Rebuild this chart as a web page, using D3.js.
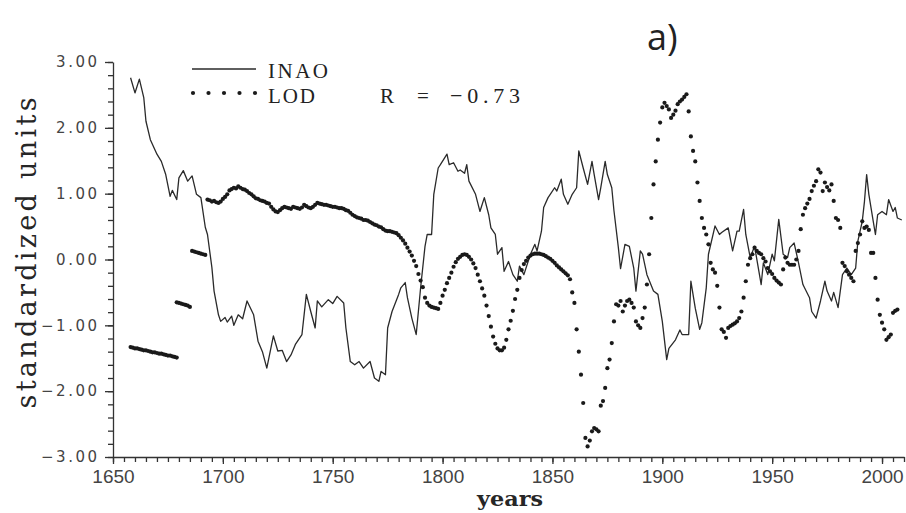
<!DOCTYPE html>
<meta charset="utf-8">
<script src="https://d3js.org/d3.v7.min.js"></script>
<body>
<svg width="906" height="513"></svg>
<style>
body { margin: 0; background: #fff; }
svg { display: block; background: #fff; }
.axis path, .axis line { stroke: #333; stroke-width: 1.3; }
.ylab text { font-family: 'DejaVu Sans', sans-serif; font-size: 15px; letter-spacing: 2.5px; fill: #444; }
.xlab text { font-family: 'Liberation Sans', sans-serif; font-size: 19px; fill: #444; }
.serif { font-family: 'Liberation Serif', serif; fill: #222; }
.slab { font-family: 'DejaVu Serif', serif; fill: #262626; }
</style>
<script>
// INAO index (solid line)
const inaoYears = [1658,1660,1662,1664,1665,1667,1670,1672,1674,1676,1677,1679,1680,1682,1684,1686,1688,1690,1692,1693,
  1695,1696,1698,1699,1701,1702,1704,1705,1707,1709,1711,1714,1716,1718,1720,1723,1725,1727,1729,1731,
  1733,1736,1738,1740,1742,1743,1745,1748,1750,1752,1755,1756,1758,1760,1762,1764,1767,1769,1771,1772,
  1774,1775,1777,1780,1781,1783,1784,1786,1788,1790,1792,1793,1795,1796,1798,1799,1802,1803,1805,1807,
  1808,1810,1811,1812,1815,1817,1819,1821,1822,1824,1825,1827,1828,1830,1832,1834,1835,1837,1840,1842,
  1843,1845,1846,1848,1849,1851,1852,1854,1855,1857,1859,1861,1862,1864,1866,1868,1869,1871,1872,1874,
  1875,1877,1878,1880,1881,1883,1885,1887,1888,1890,1891,1893,1896,1898,1900,1902,1903,1906,1908,1909,
  1912,1913,1915,1917,1918,1920,1921,1924,1926,1927,1930,1932,1934,1935,1937,1938,1940,1942,1945,1946,
  1948,1950,1951,1953,1955,1957,1958,1960,1962,1964,1967,1968,1970,1972,1974,1975,1977,1978,1980,1982,
  1984,1986,1988,1989,1991,1992,1993,1994,1996,1997,1998,2000,2002,2003,2005,2006,2007,2009];
const inaoValues = [2.76,2.53,2.74,2.46,2.10,1.82,1.60,1.49,1.29,0.96,1.05,0.91,1.24,1.35,1.19,1.27,0.99,0.94,0.49,0.38,
  -0.12,-0.48,-0.84,-0.94,-0.88,-0.95,-0.86,-1.00,-0.84,-0.90,-0.63,-0.84,-1.24,-1.40,-1.65,-1.16,-1.39,-1.38,-1.55,-1.45,
  -1.29,-1.14,-0.53,-0.79,-1.04,-0.63,-0.72,-0.61,-0.67,-0.56,-0.66,-1.04,-1.55,-1.60,-1.55,-1.65,-1.55,-1.80,-1.85,-1.70,
  -1.75,-1.04,-0.79,-0.53,-0.43,-0.35,-0.58,-0.89,-1.14,-0.43,0.20,0.38,0.38,0.99,1.39,1.44,1.60,1.44,1.47,1.34,
  1.36,1.31,1.44,1.19,0.99,0.73,0.94,0.68,0.48,0.38,0.08,0.18,-0.18,-0.03,-0.23,-0.33,-0.10,-0.23,0.08,0.23,
  0.13,0.43,0.79,0.94,0.99,1.09,1.04,1.22,0.99,0.84,0.99,1.09,1.65,1.39,1.14,1.49,1.29,0.91,1.09,1.49,
  1.29,1.09,0.74,0.18,-0.14,0.23,0.20,-0.13,-0.48,0.13,0.08,-0.23,-0.48,-0.53,-0.94,-1.52,-1.35,-1.22,-1.07,-1.14,
  -1.14,-0.33,-0.74,-1.06,-0.96,-0.43,0.08,0.51,0.38,0.41,0.48,0.13,0.43,0.43,0.76,0.38,0.03,0.20,-0.38,-0.05,
  -0.23,0.08,-0.02,0.61,0.08,0.03,0.18,0.25,-0.05,-0.38,-0.58,-0.79,-0.89,-0.63,-0.33,-0.48,-0.63,-0.50,-0.73,-0.23,
  -0.13,-0.23,-0.13,0.28,0.58,0.88,1.29,0.99,0.58,0.38,0.68,0.73,0.68,0.91,0.73,0.79,0.63,0.60];

// LOD (dots), annual values in four pieces starting at these years
const lodStarts = [1658, 1679, 1686, 1693];
const lodA = [-1.33,-1.34,-1.35,-1.35,-1.36,-1.37,-1.38,-1.38,-1.39,-1.40,-1.41,-1.41,-1.42,-1.43,-1.43,-1.44,
  -1.45,-1.46,-1.46,-1.47,-1.48,-1.49];
const lodB = [-0.65,-0.66,-0.67,-0.68,-0.69,-0.70,-0.72];
const lodC = [0.13,0.12,0.11,0.10,0.09,0.08,0.07];
const lodD = [0.91,0.90,0.88,0.89,0.87,0.86,0.88,
  0.92,0.95,0.99,1.05,1.07,1.09,1.08,1.11,1.09,1.07,
  1.06,1.04,1.01,0.99,0.96,0.93,0.92,0.90,0.89,0.88,
  0.86,0.85,0.80,0.76,0.73,0.72,0.75,0.78,0.80,0.79,
  0.78,0.77,0.80,0.79,0.78,0.77,0.79,0.83,0.81,0.79,
  0.78,0.80,0.83,0.86,0.85,0.84,0.83,0.83,0.82,0.81,
  0.80,0.80,0.79,0.78,0.78,0.77,0.75,0.74,0.71,0.68,
  0.66,0.64,0.63,0.62,0.60,0.60,0.59,0.57,0.55,0.53,
  0.52,0.50,0.49,0.46,0.44,0.43,0.43,0.42,0.41,0.40,
  0.37,0.33,0.29,0.24,0.18,0.12,0.06,-0.02,-0.10,-0.22,
  -0.32,-0.42,-0.58,-0.66,-0.70,-0.72,-0.73,-0.74,-0.75,-0.66,
  -0.55,-0.46,-0.36,-0.28,-0.20,-0.11,-0.04,0.01,0.04,0.07,
  0.08,0.07,0.04,0.00,-0.06,-0.13,-0.23,-0.33,-0.44,-0.55,
  -0.70,-0.86,-1.02,-1.17,-1.28,-1.35,-1.38,-1.38,-1.34,-1.22,
  -1.06,-0.93,-0.78,-0.60,-0.46,-0.28,-0.16,-0.07,-0.02,0.03,
  0.06,0.08,0.09,0.09,0.09,0.08,0.07,0.05,0.03,0.01,
  -0.02,-0.05,-0.09,-0.12,-0.15,-0.18,-0.21,-0.24,-0.30,-0.50,
  -0.66,-1.06,-1.40,-1.75,-2.18,-2.71,-2.84,-2.75,-2.61,-2.56,
  -2.58,-2.61,-2.22,-2.15,-1.95,-1.65,-1.52,-1.27,-0.94,-0.68,
  -0.70,-0.63,-0.79,-0.70,-0.63,-0.61,-0.66,-0.73,-0.94,-1.00,
  -1.04,-0.89,-0.73,-0.38,0.08,0.63,1.14,1.49,1.82,2.08,
  2.31,2.38,2.33,2.28,2.15,2.20,2.26,2.36,2.40,2.43,
  2.47,2.51,2.25,1.87,1.65,1.49,1.17,0.89,0.63,0.48,
  0.38,0.23,-0.05,-0.15,-0.20,-0.40,-0.73,-1.06,-1.10,-1.19,
  -1.04,-1.01,-0.99,-0.97,-0.94,-0.89,-0.79,-0.58,-0.33,-0.08,
  0.02,0.08,0.18,0.13,0.10,0.08,0.02,-0.03,-0.13,-0.18,
  -0.22,-0.28,-0.32,-0.35,-0.38,-0.15,0.03,-0.05,-0.08,-0.08,
  -0.08,0.00,0.13,0.46,0.68,0.78,0.85,0.92,1.04,1.12,
  1.19,1.37,1.32,1.04,1.17,1.10,1.05,1.14,0.89,0.63,
  0.60,0.48,-0.05,-0.10,-0.18,-0.23,-0.28,-0.33,0.13,0.25,
  0.38,0.58,0.48,0.50,0.45,0.10,0.10,-0.28,-0.61,-0.84,
  -0.96,-1.06,-1.22,-1.18,-1.14,-0.81,-0.78,-0.76];

const xMajor = [1650, 1700, 1750, 1800, 1850, 1900, 1950, 2000];
const yMajor = [-3, -2, -1, 0, 1, 2, 3];

var svg = d3.select('svg');
var x = d3.scaleLinear().domain([1650, 2010]).range([113, 904]);
var y = d3.scaleLinear().domain([-3, 3]).range([457, 62]);

// ----- axes -----
var yMinor = d3.range(-30, 31, 2).map(d => d / 10);
var xMinor = d3.range(1650, 2011, 5);

svg.append('g').attr('class', 'axis').attr('transform', 'translate(113,0)')
  .call(d3.axisLeft(y).tickValues(yMinor).tickSize(5).tickSizeOuter(0).tickFormat(''))
  .select('.domain').remove();
svg.append('g').attr('class', 'axis ylab').attr('transform', 'translate(113,0)')
  .call(d3.axisLeft(y).tickValues(yMajor).tickSize(8).tickSizeOuter(0).tickPadding(5.5).tickFormat(d3.format('.2f')));

svg.append('g').attr('class', 'axis').attr('transform', 'translate(0,457)')
  .call(d3.axisBottom(x).tickValues(xMinor).tickSize(5).tickSizeOuter(0).tickFormat(''))
  .select('.domain').remove();
svg.append('g').attr('class', 'axis xlab').attr('transform', 'translate(0,457)')
  .call(d3.axisBottom(x).tickValues(xMajor).tickSize(7).tickSizeOuter(0).tickPadding(6).tickFormat(d3.format('d')));

svg.selectAll('.axis text').attr('font-family', null).attr('font-size', null).attr('fill', null);

// ----- INAO line -----
var inao = inaoYears.map((yr, i) => [yr, inaoValues[i]]);
var line = d3.line().x(d => x(d[0])).y(d => y(d[1]));
svg.append('path').datum(inao)
  .attr('d', line)
  .attr('fill', 'none')
  .attr('stroke', '#2a2a2a')
  .attr('stroke-width', 1.3)
  .attr('stroke-linejoin', 'round');

// ----- LOD dots -----
var lod = [];
[lodA, lodB, lodC, lodD].forEach((arr, k) => {
  arr.forEach((v, i) => lod.push([lodStarts[k] + i, v]));
});
svg.append('g').selectAll('circle').data(lod).enter().append('circle')
  .attr('cx', d => x(d[0]))
  .attr('cy', d => y(d[1]))
  .attr('r', 2.1)
  .attr('fill', '#1a1a1a');

// ----- legend -----
svg.append('line').attr('x1', 192).attr('x2', 256).attr('y1', 69).attr('y2', 69)
  .attr('stroke', '#2a2a2a').attr('stroke-width', 1.3);
svg.append('g').selectAll('circle').data([0, 1, 2, 3, 4]).enter().append('circle')
  .attr('cx', d => 193 + d * 15.5).attr('cy', 93).attr('r', 2.1).attr('fill', '#1a1a1a');

svg.append('text').attr('class', 'serif').attr('x', 268).attr('y', 78)
  .attr('font-size', 21).attr('textLength', 60).attr('lengthAdjust', 'spacing').text('INAO');
svg.append('text').attr('class', 'serif').attr('x', 268).attr('y', 103)
  .attr('font-size', 21).attr('textLength', 47).attr('lengthAdjust', 'spacing').text('LOD');
svg.append('text').attr('class', 'serif').attr('x', 380).attr('y', 103)
  .attr('font-size', 21).text('R');
svg.append('text').attr('class', 'serif').attr('x', 417).attr('y', 103)
  .attr('font-size', 21).text('=');
svg.append('text').attr('class', 'serif').attr('x', 450).attr('y', 103)
  .attr('font-size', 22).attr('textLength', 70).attr('lengthAdjust', 'spacing').text('\u22120.73');

// ----- titles -----
svg.append('text').attr('x', 647).attr('y', 50)
  .attr('font-family', "'Open Sans', sans-serif").attr('font-size', 36).attr('fill', '#222')
  .text('a)');

svg.append('text').attr('class', 'slab')
  .attr('transform', 'translate(36,253) rotate(-90)')
  .attr('text-anchor', 'middle').attr('font-size', 27)
  .attr('textLength', 311).attr('lengthAdjust', 'spacing')
  .text('standardized units');

svg.append('text').attr('class', 'slab').attr('x', 510).attr('y', 506)
  .attr('text-anchor', 'middle').attr('font-size', 20).attr('font-weight', 'bold')
  .attr('textLength', 66).attr('lengthAdjust', 'spacingAndGlyphs')
  .text('years');
</script>
</body>
